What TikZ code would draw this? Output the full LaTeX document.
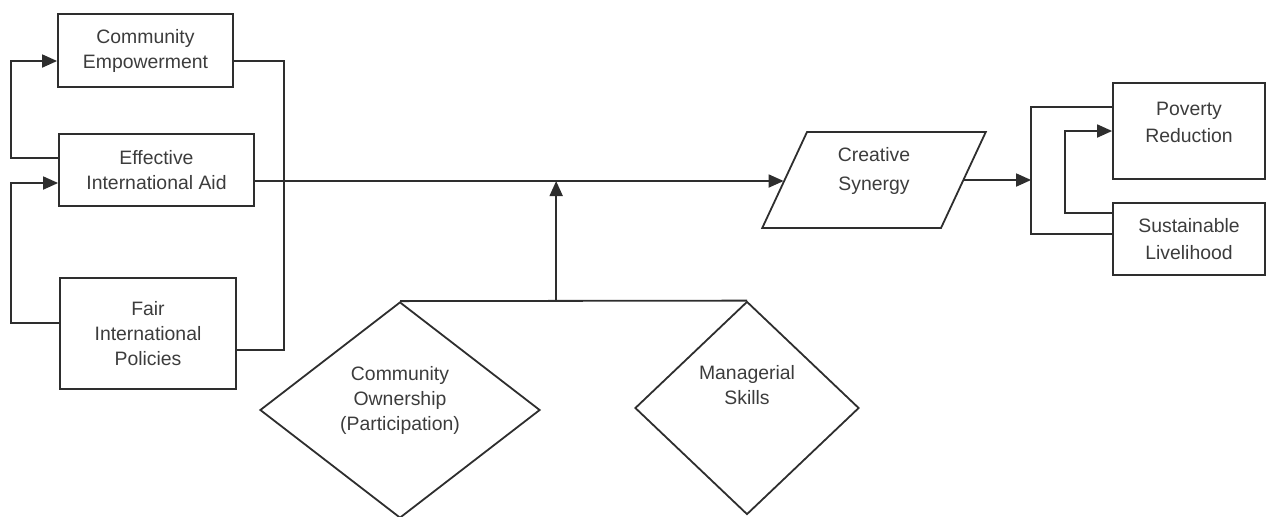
\documentclass[tikz,border=0pt]{standalone}
\usepackage{fontspec}
\setmainfont{Liberation Sans}
\usepackage{tikz}
\usetikzlibrary{arrows.meta, calc, shapes.geometric}

\definecolor{ink}{HTML}{2E2E2E}
\definecolor{txt}{HTML}{3C3C3C}

\begin{document}
\begin{tikzpicture}[x=0.5pt, y=-0.5pt, line width=0.9pt, draw=ink,
    font=\fontsize{9.7}{12.5}\selectfont\color{txt},
    arr/.style={-{Triangle[length=7.5pt, width=6.5pt]}},
    box/.style={draw, rectangle, align=center, inner sep=2pt},
    rhomb/.style={draw, diamond, inner sep=0pt},
    slanted/.style={draw, trapezium, trapezium left angle=65, trapezium right angle=115,
      inner sep=2pt, text width=63pt, text height=22pt, text depth=22pt}]
  \useasboundingbox (0,0) rectangle (1267,516);

  % left group
  \node[box, minimum width=87.5pt, minimum height=36.5pt] (ce)  at (145.5,50.5) {Community\\Empowerment};
  \node[box, minimum width=97.5pt, minimum height=36pt]   (eia) at (156.5,170)  {Effective\\International Aid};
  \node[box, minimum width=88pt,   minimum height=55.5pt] (fip) at (148,333.5)  {Fair\\International\\Policies};

  % middle
  \node[slanted, label={[align=center, yshift=4.5pt]center:Creative\\[2pt]Synergy}] (cs) at (874,180) {};
  \node[rhomb, minimum width=140pt, minimum height=108pt,
        label={[align=center, yshift=5pt]center:Community\\Ownership\\(Participation)}] (co) at (400,410) {};
  \node[rhomb, minimum width=112pt, minimum height=106.5pt,
        label={[align=center, yshift=11.5pt]center:Managerial\\Skills}] (ms) at (747,408) {};

  % outcomes
  \node[box, minimum width=76pt, minimum height=48pt,
        label={[align=center, yshift=4.25pt]center:Poverty\\[1pt]Reduction}] (pr) at (1189,131) {};
  \node[box, minimum width=76pt, minimum height=36pt] (sl) at (1189,239) {Sustainable\\[1pt]Livelihood};

  % loops on the left
  \draw[arr] ($(eia.west)+(0,-12)$) -- ++(-47,0) |- ($(ce.west)+(0,10.5)$);
  \draw[arr] ($(fip.west)+(0,-10.5)$) -- ++(-48,0) |- ($(eia.west)+(0,13)$);
  \draw ($(ce.east)+(0,10.5)$) -- ++(50,0) |- ($(fip.east)+(0,16.5)$);

  % main line and moderators
  \draw[arr] ($(eia.east)+(0,11)$) coordinate (m) -- (m -| cs.west);
  \draw (co.north) -- coordinate[pos=0.45] (j) (ms.north);
  \draw[arr] (j) -- (j |- m);

  % outcomes bracket
  \draw ($(pr.west)+(0,-24)$) -- ++(-81,0) coordinate (b) |- ($(sl.west)+(0,-5)$);
  \draw[arr] (cs.east) -- (cs.east -| b);
  \draw[arr] ($(sl.west)+(0,-26)$) -- ++(-47,0) |- (pr.west);
\end{tikzpicture}
\end{document}
